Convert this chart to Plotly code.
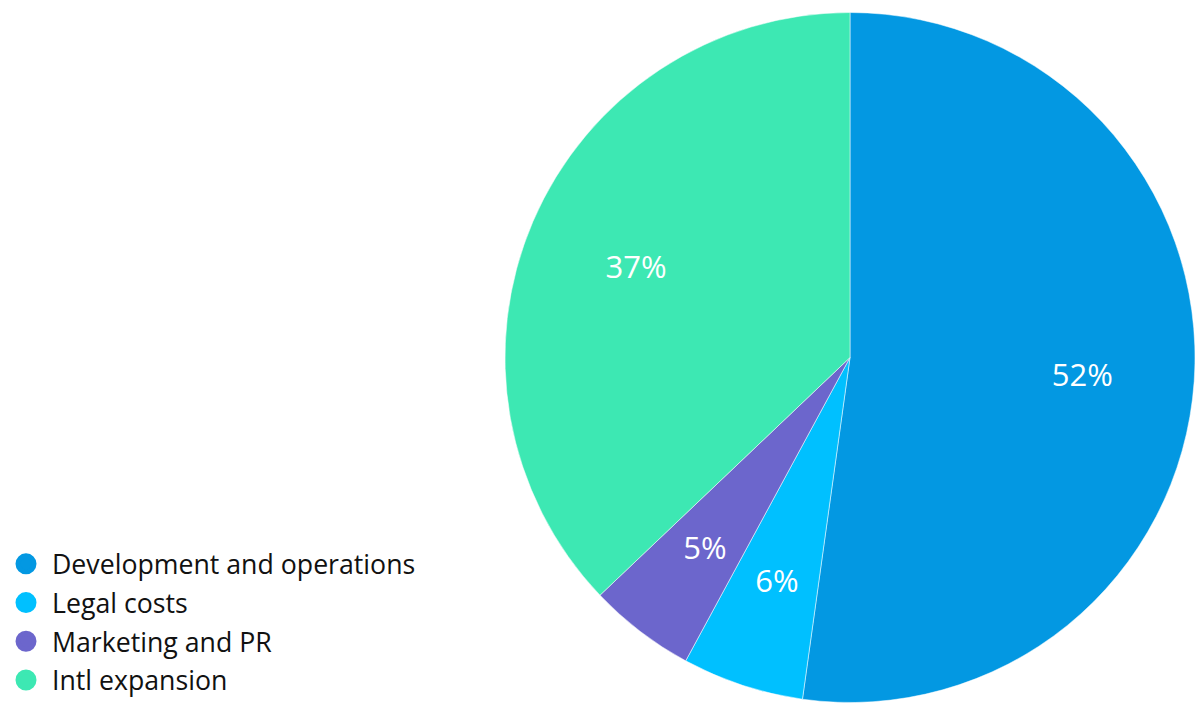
import plotly.graph_objects as go

labels = ["Development and operations", "Legal costs", "Marketing and PR", "Intl expansion"]
values = [52.2, 5.7, 5.0, 37.1]
colors = ["#0398E2", "#00C0FF", "#6C66CC", "#3DE8B3"]
big_slice = [True, False, False, True]

FONT = "Open Sans"
W, H = 1195, 704
MT = 11
PW, PH = W, H - MT
# main pie domain (right-aligned square)
main_x = [(W - 690) / W, 1.0]
DOMAIN = dict(x=main_x, y=[0, 1])
# inner, smaller transparent pie used to place labels of the thin slices
cx = (main_x[0] + main_x[1]) / 2 * PW
R = min(690, PH) / 2
r_small = 0.80 * R
SMALL = dict(x=[(cx - r_small) / PW, (cx + r_small) / PW],
             y=[0.5 - r_small / PH, 0.5 + r_small / PH])

fig = go.Figure()
fig.add_trace(go.Pie(
    labels=labels, values=values, sort=False, direction="clockwise", rotation=0,
    marker=dict(colors=colors, line=dict(color="white", width=0.5)),
    textinfo="none", hoverinfo="label+percent",
    showlegend=False, domain=DOMAIN,
))
# labels for large slices
fig.add_trace(go.Pie(
    labels=labels, values=values, sort=False, direction="clockwise", rotation=0,
    hole=0.35,
    marker=dict(colors=["rgba(0,0,0,0)"] * len(labels), line=dict(width=0)),
    texttemplate=["%{percent:.0%}" if b else "" for b in big_slice],
    textposition="inside", insidetextorientation="horizontal",
    textfont=dict(color="white", size=31, family=FONT),
    hoverinfo="skip", showlegend=False, domain=DOMAIN,
))
# labels for small slices
fig.add_trace(go.Pie(
    labels=labels, values=values, sort=False, direction="clockwise", rotation=0,
    marker=dict(colors=["rgba(0,0,0,0)"] * len(labels), line=dict(width=0)),
    texttemplate=["" if b else "%{percent:.0%}" for b in big_slice],
    textposition="inside", insidetextorientation="horizontal",
    textfont=dict(color="white", size=31, family=FONT),
    hoverinfo="skip", showlegend=False, domain=SMALL,
))
for lab, col in zip(labels, colors):
    fig.add_trace(go.Scatter(
        x=[None], y=[None], mode="markers", name=lab, legendgroup=lab,
        marker=dict(symbol="circle", size=16, color=col, line=dict(color=col, width=5)),
    ))

fig.update_layout(
    width=W, height=H,
    margin=dict(l=0, r=0, t=MT, b=0),
    paper_bgcolor="white", plot_bgcolor="white",
    font=dict(family=FONT, size=26.7, color="#111111"),
    xaxis=dict(visible=False), yaxis=dict(visible=False),
    legend=dict(x=0, y=0, xanchor="left", yanchor="bottom", itemwidth=42,
                tracegroupgap=1, itemsizing="trace", bgcolor="rgba(0,0,0,0)",
                font=dict(family=FONT, size=26.7, color="#111111")),
)
fig.write_html("out.html")
